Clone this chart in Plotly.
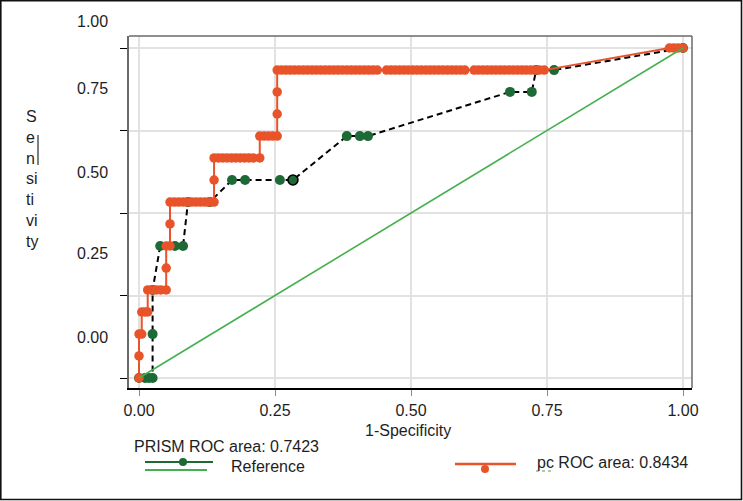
import plotly.graph_objects as go

# ---------------- data ----------------
x_ticks = [0.0, 0.25, 0.5, 0.75, 1.0]
x_tick_labels = ["0.00", "0.25", "0.50", "0.75", "1.00"]
y_ticks = [0.0, 0.25, 0.5, 0.75, 1.0]
y_tick_labels = ["1.00", "0.75", "0.50", "0.25", "0.00"]  # top to bottom, as printed

# PRISM ROC curve (dashed black line, dark green points)
prism_fpr = [0.000, 0.011, 0.018, 0.025, 0.025, 0.025, 0.039, 0.066, 0.081,
             0.090, 0.130, 0.171, 0.195, 0.259, 0.283, 0.382, 0.406, 0.421,
             0.682, 0.722, 0.730, 0.763, 1.000]
prism_tpr = [0.000, 0.000, 0.000, 0.000, 0.133, 0.267, 0.400, 0.400, 0.400,
             0.533, 0.533, 0.600, 0.600, 0.600, 0.600, 0.733, 0.733, 0.733,
             0.867, 0.867, 0.933, 0.933, 1.000]
prism_outlined = [0, 0, 0, 0, 0, 0, 0, 0, 0, 0, 0, 0, 0, 0, 1, 0, 0, 0,
                  0, 0, 0, 0, 0]

# pc ROC curve (orange step line with points)
pc_fpr = [
    0.000, 0.000, 0.000, 0.005,
    0.005, 0.011, 0.016,
    0.016, 0.024, 0.032, 0.040, 0.050,
    0.050,
    0.050, 0.057,
    0.057,
    0.057, 0.065, 0.073, 0.081, 0.089, 0.097, 0.105, 0.113, 0.121, 0.129, 0.138,
    0.138,
    0.138, 0.146, 0.154, 0.162, 0.170, 0.178, 0.186, 0.194, 0.202, 0.210, 0.222,
    0.222, 0.230, 0.238, 0.246, 0.254,
    0.254, 0.254,
    0.254, 0.262, 0.270, 0.278, 0.286, 0.294, 0.302, 0.310, 0.318, 0.326,
    0.334, 0.342, 0.350, 0.358, 0.366, 0.374, 0.382, 0.390, 0.398, 0.406,
    0.414, 0.422, 0.430, 0.438,
    0.455, 0.463, 0.471, 0.479, 0.487, 0.495, 0.503, 0.511, 0.519, 0.527,
    0.535, 0.543, 0.551, 0.559, 0.567, 0.575, 0.583, 0.591, 0.599,
    0.616, 0.624, 0.632, 0.640, 0.648, 0.656, 0.664, 0.672, 0.680, 0.688,
    0.696, 0.704, 0.712, 0.720, 0.728, 0.736, 0.745,
    0.975, 0.983, 0.991, 1.000,
]
pc_tpr = [
    0.000, 0.067, 0.133, 0.133,
    0.200, 0.200, 0.200,
    0.267, 0.267, 0.267, 0.267, 0.267,
    0.333,
    0.400, 0.400,
    0.467,
    0.533, 0.533, 0.533, 0.533, 0.533, 0.533, 0.533, 0.533, 0.533, 0.533, 0.533,
    0.600,
    0.667, 0.667, 0.667, 0.667, 0.667, 0.667, 0.667, 0.667, 0.667, 0.667, 0.667,
    0.733, 0.733, 0.733, 0.733, 0.733,
    0.800, 0.867,
    0.933, 0.933, 0.933, 0.933, 0.933, 0.933, 0.933, 0.933, 0.933, 0.933,
    0.933, 0.933, 0.933, 0.933, 0.933, 0.933, 0.933, 0.933, 0.933, 0.933,
    0.933, 0.933, 0.933, 0.933,
    0.933, 0.933, 0.933, 0.933, 0.933, 0.933, 0.933, 0.933, 0.933, 0.933,
    0.933, 0.933, 0.933, 0.933, 0.933, 0.933, 0.933, 0.933, 0.933,
    0.933, 0.933, 0.933, 0.933, 0.933, 0.933, 0.933, 0.933, 0.933, 0.933,
    0.933, 0.933, 0.933, 0.933, 0.933, 0.933, 0.933,
    1.000, 1.000, 1.000, 1.000,
]

# Reference diagonal
ref_x = [0.0, 1.0]
ref_y = [0.0, 1.0]

prism_label = "PRISM ROC area: 0.7423"
ref_label = "Reference"
pc_label = "pc ROC area: 0.8434"
x_title = "1-Specificity"
y_title = "S<br>e<br>n<br>si<br>ti<br>vi<br>ty"

# ---------------- style ----------------
ORANGE = "#E9532A"
GREEN_DARK = "#1D6A36"
GREEN_REF = "#45B04F"
GRID = "#E2E2E2"
FRAME = "#6A6A6A"
TXT = "#1E1E1E"
FONT = "Liberation Sans, Arial, sans-serif"

fig = go.Figure()

fig.add_trace(go.Scatter(
    x=prism_fpr, y=prism_tpr, mode="lines+markers", name=prism_label,
    line=dict(color="black", width=2, dash="6px,4px"),
    marker=dict(color=GREEN_DARK, size=10,
                line=dict(color="black",
                          width=[1.6 if o else 0 for o in prism_outlined])),
))
fig.add_trace(go.Scatter(
    x=pc_fpr, y=pc_tpr, mode="lines+markers", name=pc_label,
    line=dict(color=ORANGE, width=2),
    marker=dict(color=ORANGE, size=9.5),
))
fig.add_trace(go.Scatter(
    x=ref_x, y=ref_y, mode="lines", name=ref_label,
    line=dict(color=GREEN_REF, width=1.6),
))

# plot area in pixels: left 129, right 692, top 36, bottom 388
W, H = 743, 501
L, R, T, B = 129, 692, 36, 388
pw, ph = R - L, B - T


def px(xp):
    return (xp - L) / pw


def py(yp):
    return (B - yp) / ph


annotations = []
# y tick labels (printed offset from the tick marks, as in the reference)
for lab, ypix in zip(y_tick_labels, [22, 88, 172, 253, 337]):
    annotations.append(dict(text=lab, xref="paper", yref="paper", x=px(110),
                            y=py(ypix), xanchor="right", yanchor="middle",
                            showarrow=False, font=dict(size=16, color=TXT)))
annotations.append(dict(text=y_title, xref="paper", yref="paper", x=px(24),
                        y=py(179), xanchor="left", yanchor="middle", align="left",
                        showarrow=False, font=dict(size=16, color=TXT)))
annotations.append(dict(text=x_title, xref="paper", yref="paper", x=px(408),
                        y=py(430), xanchor="center", yanchor="middle",
                        showarrow=False, font=dict(size=16, color=TXT)))
annotations.append(dict(text=prism_label, xref="paper", yref="paper", x=px(132),
                        y=py(446), xanchor="left", yanchor="middle",
                        showarrow=False, font=dict(size=16, color=TXT)))
annotations.append(dict(text=ref_label, xref="paper", yref="paper", x=px(229),
                        y=py(466), xanchor="left", yanchor="middle",
                        showarrow=False, font=dict(size=16, color=TXT)))
annotations.append(dict(text=pc_label, xref="paper", yref="paper", x=px(535),
                        y=py(462), xanchor="left", yanchor="middle",
                        showarrow=False, font=dict(size=16, color=TXT)))

shapes = []
# gray frame top/right
shapes.append(dict(type="line", xref="paper", yref="paper", x0=0, x1=1, y0=1, y1=1,
                   line=dict(color=FRAME, width=1.5)))
shapes.append(dict(type="line", xref="paper", yref="paper", x0=1, x1=1, y0=0, y1=1,
                   line=dict(color=FRAME, width=1.5)))
# outer image border
shapes.append(dict(type="rect", xref="paper", yref="paper",
                   x0=px(0.8), x1=px(741.5), y0=py(499.5), y1=py(0.8),
                   line=dict(color="#111111", width=1.6)))
# y-title side mark
shapes.append(dict(type="line", xref="paper", yref="paper", x0=px(38), x1=px(38),
                   y0=py(135), y1=py(165), line=dict(color="black", width=1)))
# legend samples
shapes.append(dict(type="line", xref="paper", yref="paper", x0=px(145), x1=px(213),
                   y0=py(462), y1=py(462), line=dict(color=GREEN_DARK, width=2)))
shapes.append(dict(type="circle", xref="paper", yref="paper", fillcolor=GREEN_DARK,
                   x0=px(179), x1=px(187), y0=py(466), y1=py(458),
                   line=dict(width=0)))
shapes.append(dict(type="line", xref="paper", yref="paper", x0=px(145), x1=px(207),
                   y0=py(470), y1=py(470), line=dict(color=GREEN_REF, width=2)))
shapes.append(dict(type="line", xref="paper", yref="paper", x0=px(455), x1=px(516),
                   y0=py(464), y1=py(464), line=dict(color=ORANGE, width=2.5)))
shapes.append(dict(type="circle", xref="paper", yref="paper", fillcolor=ORANGE,
                   x0=px(481), x1=px(489), y0=py(473), y1=py(465),
                   line=dict(width=0)))
shapes.append(dict(type="line", xref="paper", yref="paper", x0=px(536), x1=px(553),
                   y0=py(471), y1=py(471),
                   line=dict(color="#5A9A5A", width=1, dash="dot")))

fig.update_layout(
    width=W, height=H,
    margin=dict(l=L, r=W - R, t=T, b=H - B, pad=0),
    paper_bgcolor="white", plot_bgcolor="white",
    showlegend=False,
    font=dict(family=FONT, size=16, color=TXT),
    annotations=annotations, shapes=shapes,
    xaxis=dict(range=[(L - 139) / 544, (R - 139) / 544],
               tickvals=x_ticks, ticktext=x_tick_labels,
               showgrid=True, gridcolor=GRID, gridwidth=1.5, zeroline=False,
               showline=True, linecolor="black", linewidth=2,
               ticks="outside", ticklen=6, tickcolor="#8A8A8A", tickwidth=1,
               ticklabelstandoff=1,
               tickfont=dict(size=16, color=TXT)),
    yaxis=dict(range=[(378 - B) / 330, (378 - T) / 330],
               tickvals=y_ticks, showticklabels=False,
               showgrid=True, gridcolor=GRID, gridwidth=1.5, zeroline=False,
               showline=True, linecolor=FRAME, linewidth=1.5,
               ticks="outside", ticklen=7, tickcolor="black", tickwidth=1),
)

fig.write_html(
    "out.html",
    config={"displayModeBar": False},
    post_script="document.body.style.margin='0';document.body.style.padding='0';"
                "document.body.style.overflow='hidden';",
)
